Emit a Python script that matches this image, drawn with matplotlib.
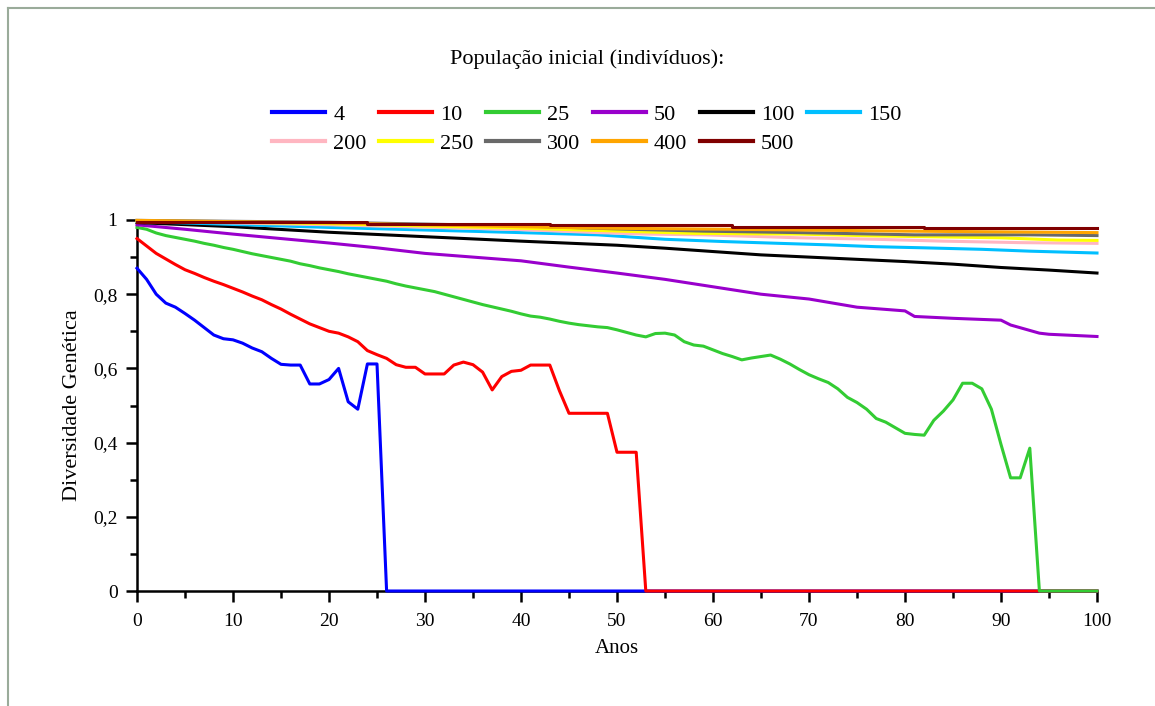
import matplotlib
matplotlib.use("Agg")
import matplotlib.pyplot as plt
from matplotlib.lines import Line2D
from matplotlib.ticker import MultipleLocator, FixedLocator

plt.rcParams['font.family'] = ['Liberation Serif', 'DejaVu Serif']

# Diversidade genetica ao longo dos anos, por populacao inicial
anos_4 = list(range(0, 27)) + [100]
div_4 = [0.87, 0.84, 0.80, 0.776, 0.765, 0.748, 0.73, 0.71, 0.69, 0.68,
         0.677, 0.668, 0.655, 0.645, 0.627, 0.611, 0.609, 0.609, 0.558, 0.558,
         0.57, 0.60, 0.51, 0.49, 0.612, 0.612, 0.0, 0.0]

anos_10 = list(range(0, 54)) + [100]
div_10 = [0.95, 0.93, 0.91, 0.895, 0.88, 0.866, 0.856, 0.845, 0.835, 0.826,
          0.816, 0.806, 0.795, 0.785, 0.772, 0.76, 0.746, 0.733, 0.72, 0.71,
          0.70, 0.695, 0.685, 0.672, 0.648, 0.637, 0.627, 0.61, 0.603, 0.603,
          0.585, 0.585, 0.585, 0.609, 0.617, 0.610, 0.59, 0.542, 0.578, 0.592,
          0.595, 0.609, 0.609, 0.609, 0.54, 0.479, 0.479, 0.479, 0.479, 0.479,
          0.374, 0.374, 0.374, 0.0, 0.0]

anos_25 = list(range(0, 95)) + [100]
div_25 = [0.98, 0.975, 0.965, 0.958, 0.953, 0.948, 0.943, 0.937, 0.932, 0.926,
          0.921, 0.915, 0.909, 0.904, 0.899, 0.894, 0.889, 0.882, 0.877, 0.871,
          0.866, 0.861, 0.855, 0.85, 0.845, 0.84, 0.835, 0.828, 0.822, 0.817,
          0.812, 0.807, 0.80, 0.793, 0.786, 0.779, 0.772, 0.766, 0.76, 0.754,
          0.747, 0.741, 0.738, 0.733, 0.727, 0.722, 0.718, 0.715, 0.712, 0.71,
          0.704, 0.697, 0.69, 0.685, 0.694, 0.695, 0.69, 0.672, 0.663, 0.66,
          0.65, 0.64, 0.632, 0.623, 0.628, 0.632, 0.636, 0.625, 0.612, 0.597,
          0.583, 0.572, 0.562, 0.545, 0.522, 0.508, 0.49, 0.465, 0.455, 0.44,
          0.425, 0.422, 0.42, 0.46, 0.485, 0.515, 0.56, 0.56, 0.545, 0.49,
          0.395, 0.305, 0.305, 0.385, 0.0, 0.0]

anos_50 = [0, 5, 10, 15, 20, 25, 30, 35, 40, 45, 50, 55, 60, 65, 70, 75, 78,
           80, 81, 85, 90, 91, 94, 95, 100]
div_50 = [0.987, 0.975, 0.962, 0.95, 0.938, 0.925, 0.91, 0.9, 0.89, 0.873,
          0.857, 0.84, 0.82, 0.80, 0.787, 0.765, 0.759, 0.755, 0.74, 0.735,
          0.73, 0.717, 0.695, 0.692, 0.686]

anos_100 = [0, 10, 20, 30, 40, 50, 55, 60, 65, 70, 75, 80, 85, 90, 95, 100]
div_100 = [0.993, 0.982, 0.967, 0.955, 0.943, 0.932, 0.924, 0.915, 0.906,
           0.9, 0.894, 0.888, 0.881, 0.872, 0.865, 0.857]

anos_150 = [0, 10, 20, 30, 40, 48, 55, 61, 67, 72, 77, 82, 88, 93, 100]
div_150 = [0.996, 0.988, 0.98, 0.973, 0.966, 0.96, 0.948, 0.942, 0.937,
           0.933, 0.928, 0.925, 0.921, 0.916, 0.911]

anos_200 = [0, 20, 40, 48, 53, 59, 69, 77, 84, 92, 100]
div_200 = [0.997, 0.987, 0.974, 0.966, 0.962, 0.96, 0.952, 0.948, 0.943,
           0.939, 0.937]

anos_250 = [0, 20, 40, 58, 69, 77, 90, 96, 100]
div_250 = [0.998, 0.99, 0.978, 0.964, 0.962, 0.957, 0.952, 0.946, 0.945]

anos_300 = [0, 20, 40, 50, 59, 69, 81, 93, 100]
div_300 = [0.999, 0.994, 0.984, 0.976, 0.97, 0.966, 0.96, 0.96, 0.958]

anos_400 = [0, 20, 40, 48, 62, 80, 100]
div_400 = [0.999, 0.992, 0.982, 0.978, 0.975, 0.97, 0.966]

anos_500 = [0, 24, 43, 62, 82, 100]
div_500 = [0.995, 0.99, 0.986, 0.982, 0.978, 0.978]

rotulos = ['4', '10', '25', '50', '100', '150', '200', '250', '300', '400', '500']
cores = ['#0000FF', '#FF0000', '#33CC33', '#9900CC', '#000000', '#00BFFF',
         '#FFB6C1', '#FFFF00', '#696969', '#FFA500', '#800000']
series = [(anos_4, div_4), (anos_10, div_10), (anos_25, div_25),
          (anos_50, div_50), (anos_100, div_100), (anos_150, div_150),
          (anos_200, div_200), (anos_250, div_250), (anos_300, div_300),
          (anos_400, div_400), (anos_500, div_500)]

fig = plt.figure(figsize=(11.55, 7.06), dpi=100)
ax = fig.add_axes([137 / 1155, 1 - 591 / 706, 960 / 1155, 371 / 706])

linhas = {}
# na ordem: cada serie cobre a anterior no zero
for (x, y), rot, cor in zip(series, rotulos, cores):
    estilo = 'steps-post' if rot == '500' else 'default'
    ln, = ax.plot(x, y, color=cor, lw=2.2, label=rot, drawstyle=estilo,
                  clip_on=False, zorder=3)
    linhas[rot] = ln

ax.set_xlim(0, 100)
ax.set_ylim(0, 1)
ax.xaxis.set_major_locator(MultipleLocator(10))
ax.xaxis.set_minor_locator(MultipleLocator(5))
ax.yaxis.set_major_locator(FixedLocator([0, 0.2, 0.4, 0.6, 0.8, 1.0]))
ax.yaxis.set_minor_locator(MultipleLocator(0.1))
ax.set_yticklabels(['0', '0,2', '0,4', '0,6', '0,8', '1'])

for lado in ['top', 'right']:
    ax.spines[lado].set_visible(False)
for lado in ['left', 'bottom']:
    ax.spines[lado].set_linewidth(1.8)
ax.tick_params(which='major', length=8, width=1.8, labelsize=14, direction='out')
ax.tick_params(which='minor', length=5, width=1.8, direction='out')
ax.tick_params(axis='y', pad=6)
ax.tick_params(axis='x', pad=8)

ax.set_xlabel('Anos', fontsize=15, labelpad=6)
ax.set_ylabel('Diversidade Genética', fontsize=16, labelpad=8)

# legenda em duas linhas, lida da esquerda para a direita
ordem = ['4', '200', '10', '250', '25', '300', '50', '400', '100', '500', '150']
leg = fig.legend([linhas[r] for r in ordem], ordem, ncol=6, loc='upper left',
                 bbox_to_anchor=(272 / 1155, 1 - 104 / 706), frameon=False,
                 fontsize=16, handlelength=2.4, handletextpad=0.36,
                 columnspacing=0.55, labelspacing=0.4, borderpad=0,
                 borderaxespad=0)
for h in leg.legend_handles:
    h.set_linewidth(3)

fig.text(587 / 1155, 1 - 59 / 706, 'População inicial (indivíduos):',
         fontsize=16, ha='center', va='center')

# moldura cinza no topo e a esquerda
fig.add_artist(Line2D([8 / 1155, 1], [1 - 8 / 706] * 2, color='#9aab9a', lw=1.5))
fig.add_artist(Line2D([8 / 1155] * 2, [0, 1 - 8 / 706], color='#9aab9a', lw=1.5))

fig.savefig('out.png', dpi=100)
